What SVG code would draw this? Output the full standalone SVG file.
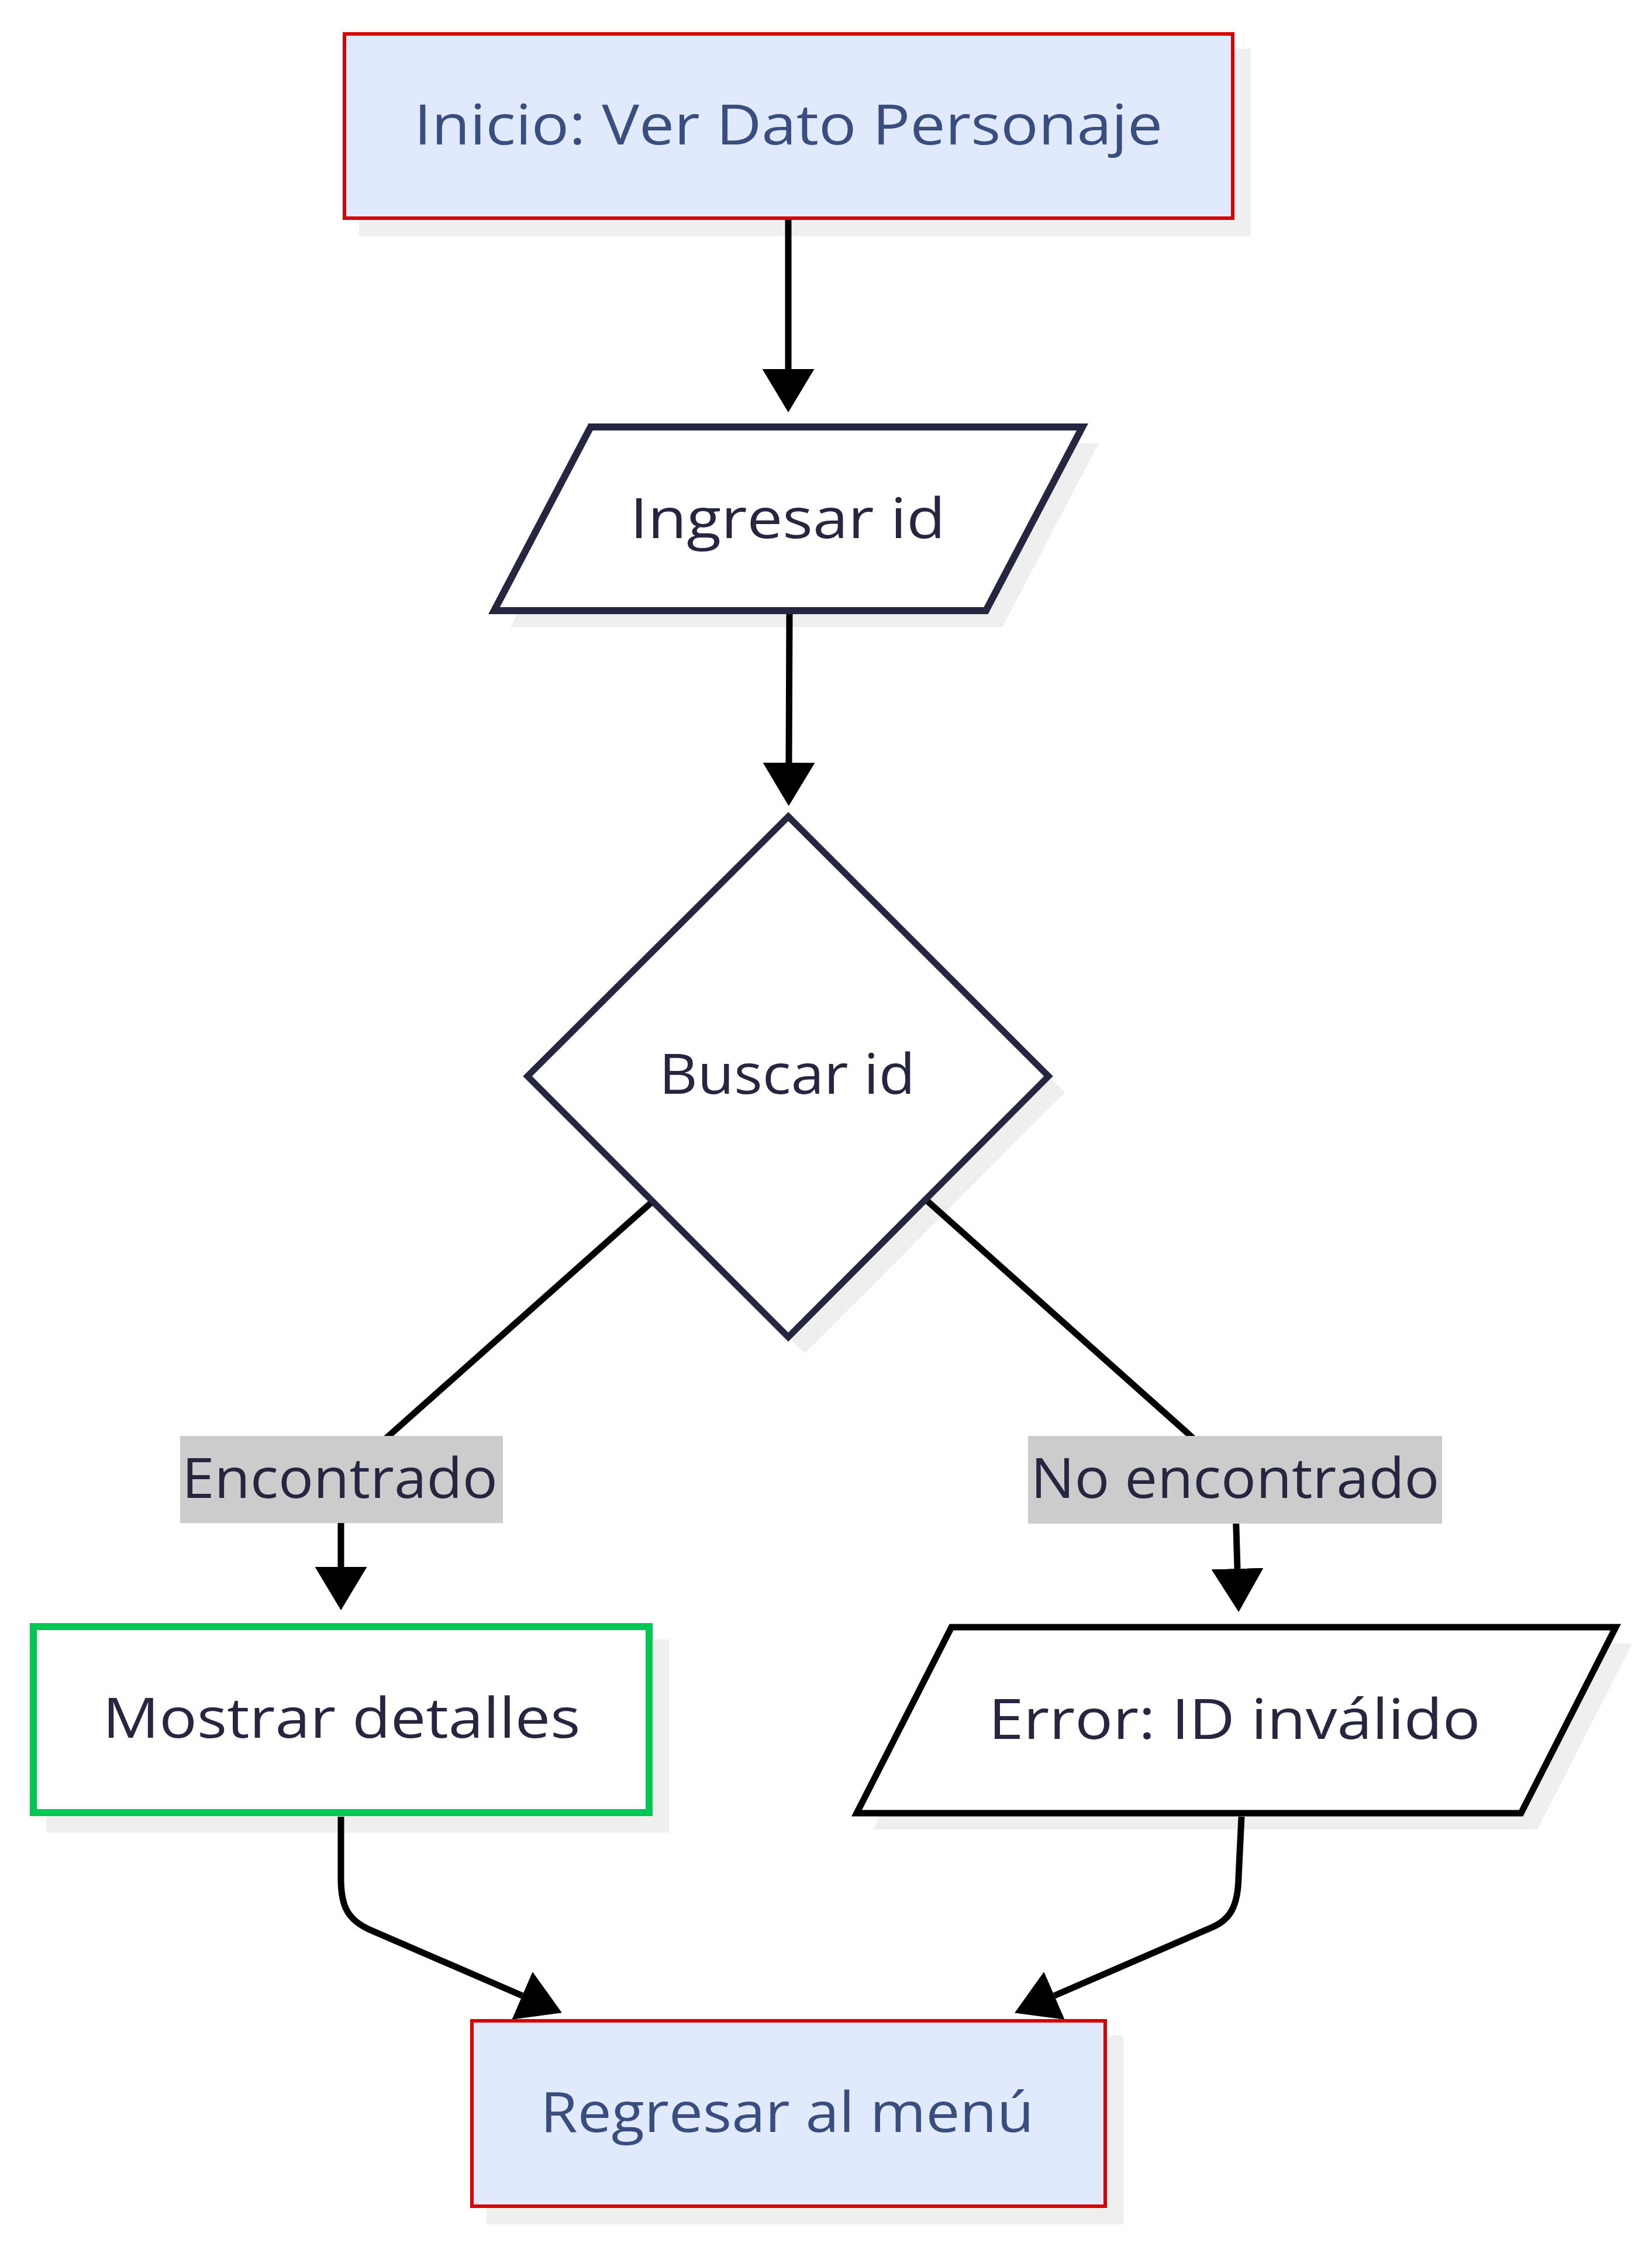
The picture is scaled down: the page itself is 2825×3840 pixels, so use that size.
<svg xmlns="http://www.w3.org/2000/svg" width="2825" height="3840" viewBox="0 0 2825 3840">
  <style>
    .shadow { fill: #efefef; stroke: none; }
    .lbl { font-family: "Open Sans", "Noto Sans", "DejaVu Sans", sans-serif; font-size: 95px; text-anchor: middle; fill: #262641; }
    .lbl-blue { fill: #394e7e; }
    .term { fill: #e1eafd; stroke: #d80000; stroke-width: 6; }
    .io { fill: #ffffff; stroke: #262640; stroke-width: 12; stroke-linejoin: miter; }
    .decision { fill: #ffffff; stroke: #262640; stroke-width: 11; }
    .ok { fill: #ffffff; stroke: #00c853; stroke-width: 12; }
    .err { fill: #ffffff; stroke: #000000; stroke-width: 11; }
    .edge { fill: none; stroke: #000000; stroke-width: 11; }
    .edge-bg { fill: #cccccc; }
  </style>
  <defs>
    <marker id="arrow" viewBox="0 0 74 89" markerWidth="74" markerHeight="89" refX="0" refY="44.5" markerUnits="userSpaceOnUse" orient="auto">
      <path d="M0,0 L74,44.5 L0,89 z" fill="#000000"/>
    </marker>
  </defs>
  <rect width="2825" height="3840" fill="#ffffff"/>

  <!-- shadows -->
  <g id="shadows">
    <rect class="shadow" x="614" y="83" width="1525" height="321"/>
    <polygon class="shadow" points="1038,758 1879,758 1714,1072 873,1072"/>
    <polygon class="shadow" points="1376,1424 1821,1868 1376,2314 930,1868"/>
    <rect class="shadow" x="79" y="2803" width="1065" height="330"/>
    <polygon class="shadow" points="1655,2810 2791,2810 2629,3128 1493,3128"/>
    <rect class="shadow" x="832" y="3480" width="1089" height="323"/>
  </g>

  <!-- connectors -->
  <g id="connectors">
    <path class="edge" d="M1348,376 L1348,631" marker-end="url(#arrow)"/>
    <path class="edge" d="M1350,1050 L1349,1304" marker-end="url(#arrow)"/>
    <path class="edge" d="M1116,2054 L650,2468 Q583,2528 583,2580 L583,2679" marker-end="url(#arrow)"/>
    <path class="edge" d="M1582,2050 L2036,2455 Q2112,2525 2113,2580 L2116,2682" marker-end="url(#arrow)"/>
    <path class="edge" d="M583,3106 L583,3212 C583,3260 595,3283 634,3300 L893,3412" marker-end="url(#arrow)"/>
    <path class="edge" d="M2123,3106 L2118,3209 C2117,3260 2103,3282 2073,3295 L1803,3412" marker-end="url(#arrow)"/>
  </g>

  <!-- edge labels -->
  <g id="edge-label-encontrado">
    <rect class="edge-bg" x="308" y="2455" width="552" height="149"/>
    <text class="lbl" x="581" y="2561" textLength="540" lengthAdjust="spacingAndGlyphs">Encontrado</text>
  </g>
  <g id="edge-label-no-encontrado">
    <rect class="edge-bg" x="1758" y="2455" width="708" height="150"/>
    <text class="lbl" x="2112" y="2561" textLength="699" lengthAdjust="spacingAndGlyphs">No encontrado</text>
  </g>

  <!-- nodes -->
  <g id="node-inicio">
    <rect class="term" x="589" y="58" width="1519" height="315"/>
    <text class="lbl lbl-blue" x="1348" y="247" textLength="1280" lengthAdjust="spacingAndGlyphs">Inicio: Ver Dato Personaje</text>
  </g>
  <g id="node-ingresar">
    <polygon class="io" points="1010,730 1851,730 1686,1044 845,1044"/>
    <text class="lbl" x="1347" y="920" textLength="539" lengthAdjust="spacingAndGlyphs">Ingresar id</text>
  </g>
  <g id="node-buscar">
    <polygon class="decision" points="1348,1396 1793,1840 1348,2286 902,1840"/>
    <text class="lbl" x="1346" y="1870" textLength="438" lengthAdjust="spacingAndGlyphs">Buscar id</text>
  </g>
  <g id="node-mostrar">
    <rect class="ok" x="57" y="2781" width="1053" height="318"/>
    <text class="lbl" x="584" y="2971" textLength="817" lengthAdjust="spacingAndGlyphs">Mostrar detalles</text>
  </g>
  <g id="node-error">
    <polygon class="err" points="1627,2782 2763,2782 2601,3100 1465,3100"/>
    <text class="lbl" x="2111" y="2973" textLength="841" lengthAdjust="spacingAndGlyphs">Error: ID inválido</text>
  </g>
  <g id="node-regresar">
    <rect class="term" x="807" y="3455" width="1083" height="317"/>
    <text class="lbl lbl-blue" x="1346" y="3645" textLength="844" lengthAdjust="spacingAndGlyphs">Regresar al menú</text>
  </g>
</svg>
